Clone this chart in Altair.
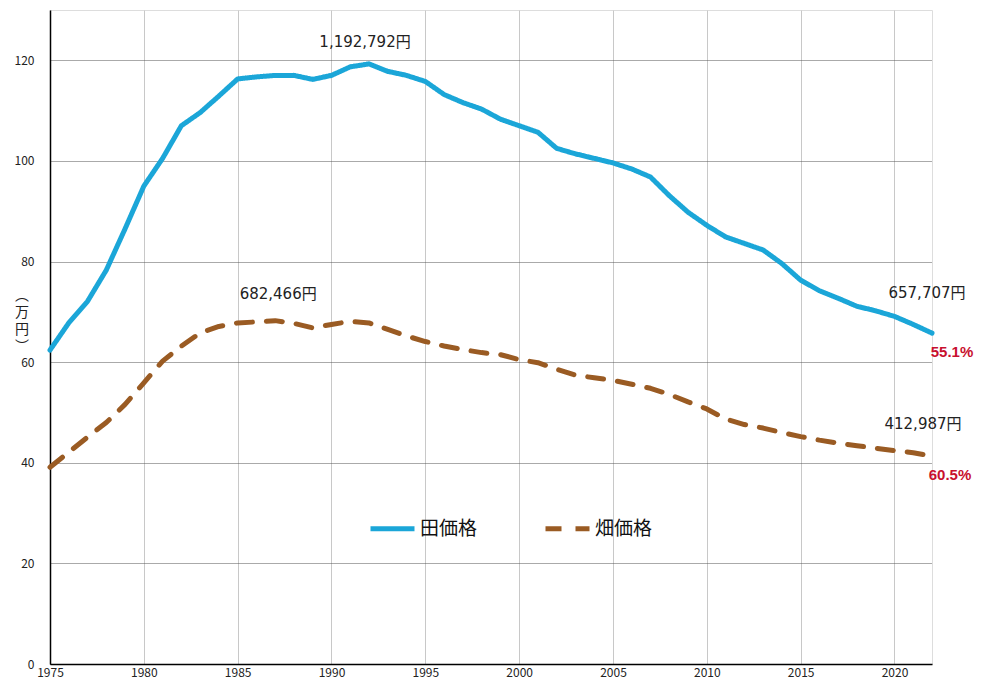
import altair as alt
import pandas as pd

years = list(range(1975, 2023))
paddy = [62.4, 67.8, 72.1, 78.3, 86.5, 95.0, 100.5, 107.0, 109.6, 112.9,
         116.3, 116.7, 117.0, 117.0, 116.2, 117.0, 118.7, 119.28, 117.8, 117.0,
         115.8, 113.2, 111.6, 110.3, 108.3, 107.0, 105.7, 102.5, 101.4, 100.5,
         99.6, 98.4, 96.8, 93.1, 89.8, 87.2, 84.9, 83.6, 82.3, 79.6,
         76.3, 74.2, 72.7, 71.1, 70.2, 69.1, 67.5, 65.77]
field = [39.1, 42.1, 45.1, 48.0, 51.6, 55.9, 60.2, 63.2, 65.8, 67.1,
         67.8, 68.0, 68.25, 67.7, 66.8, 67.5, 68.1, 67.8, 66.5, 65.2,
         64.1, 63.2, 62.5, 61.9, 61.5, 60.5, 59.9, 58.6, 57.4, 56.9,
         56.4, 55.6, 54.8, 53.6, 52.1, 50.7, 48.7, 47.6, 46.9, 46.0,
         45.2, 44.5, 43.9, 43.4, 42.9, 42.4, 42.0, 41.3]
series_names = ["田価格", "畑価格"]
series_colors = ["#1ba6d8", "#9a5b23"]

ann_year = [1992, 1987, 2022, 2022]
ann_value = [119.28, 68.25, 65.77, 41.3]
ann_text = ["1,192,792円", "682,466円", "657,707円", "412,987円"]
ann_dx = [-4, 3, -5, -9]
ann_dy = [-22, -27, -40, -32]

pct_year = [2022, 2022]
pct_value = [65.77, 41.3]
pct_text = ["55.1%", "60.5%"]
pct_dx = [20, 18]
pct_dy = [19, 19]

FONT = "Noto Sans CJK JP"
NUMFONT = "DejaVu Sans, Noto Sans CJK JP"

df = pd.DataFrame({
    "year": years * 2,
    "value": paddy + field,
    "series": [series_names[0]] * len(years) + [series_names[1]] * len(years),
})
ann = pd.DataFrame({"year": ann_year, "value": ann_value, "text": ann_text})
pct = pd.DataFrame({"year": pct_year, "value": pct_value, "text": pct_text})

xs = alt.Scale(domain=[1975, 2022], nice=False, zero=False)
ys = alt.Scale(domain=[0, 130], nice=False)

base_x = alt.X("year:Q", scale=xs, title=None,
               axis=alt.Axis(values=list(range(1975, 2021, 5)), format="d",
                             grid=True, gridColor="#c8c8c8", gridWidth=1,
                             domainColor="#000", domainWidth=1.5, ticks=False,
                             labelFont=FONT, labelFontSize=12, labelColor="#222",
                             labelPadding=3, labelFlush=False))
base_y = alt.Y("value:Q", scale=ys, title=None,
               axis=alt.Axis(values=list(range(0, 121, 20)), grid=True,
                             gridColor="#555", gridDash=[1, 1], gridWidth=1,
                             domainColor="#000", domainWidth=1.5, ticks=False,
                             labelFont=FONT, labelFontSize=12, labelColor="#222",
                             labelPadding=16))

legend_kw = dict(orient="none", legendX=318, legendY=494,
                 direction="horizontal", symbolType="stroke",
                 symbolStrokeWidth=5, symbolSize=1936,
                 labelFont=FONT, labelFontSize=19,
                 labelColor="#111", labelOffset=3,
                 columnPadding=57, title=None)

lines = alt.Chart(df).mark_line(strokeWidth=5, strokeCap="round", strokeJoin="round").encode(
    x=base_x,
    y=base_y,
    color=alt.Color("series:N", title=None,
                    scale=alt.Scale(domain=series_names, range=series_colors),
                    legend=alt.Legend(**legend_kw)),
    strokeDash=alt.StrokeDash("series:N", title=None,
                              scale=alt.Scale(domain=series_names,
                                              range=[[1, 0], [16, 14]]),
                              legend=alt.Legend(**legend_kw)),
)

layers = [lines]
for t, dx, dy in zip(ann_text, ann_dx, ann_dy):
    layers.append(
        alt.Chart(ann).transform_filter(alt.datum.text == t)
        .mark_text(font=NUMFONT, fontSize=15, color="#222", dx=dx, dy=dy)
        .encode(x=alt.X("year:Q", scale=xs), y=alt.Y("value:Q", scale=ys),
                text="text:N"))
for t, dx, dy in zip(pct_text, pct_dx, pct_dy):
    layers.append(
        alt.Chart(pct).transform_filter(alt.datum.text == t)
        .mark_text(font="Liberation Sans", fontSize=15, fontWeight="bold",
                   color="#c8102e", dx=dx, dy=dy)
        .encode(x=alt.X("year:Q", scale=xs), y=alt.Y("value:Q", scale=ys),
                text="text:N"))

ytitle = alt.Chart(pd.DataFrame({"t": ["︵\n万\n円\n︶"]})).mark_text(
    font=FONT, fontSize=14, color="#222", lineBreak="\n", lineHeight=17,
    baseline="middle").encode(
    x=alt.value(-28), y=alt.value(286), text="t:N")
layers.append(ytitle)

chart = alt.layer(*layers).properties(
    width=882, height=654,
    padding={"left": 42, "top": 2, "right": 42, "bottom": 21},
    autosize=alt.AutoSizeParams(type="none"),
).configure_view(stroke=None).configure(background="white")

chart.save("out.html", embed_options={"renderer": "svg", "actions": False})
